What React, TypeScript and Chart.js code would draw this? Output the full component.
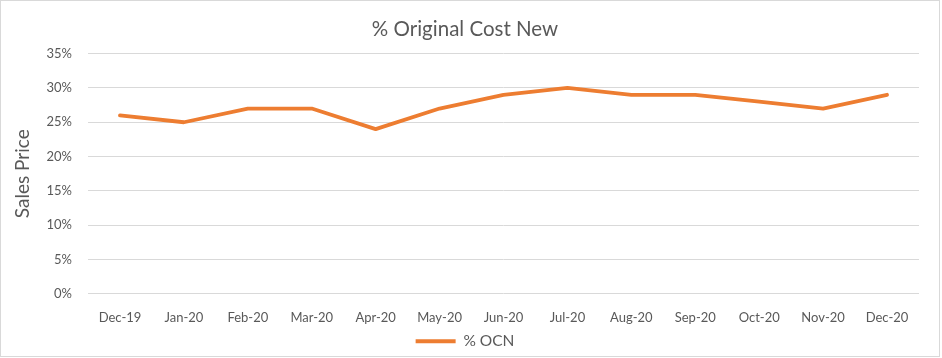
import React, { useEffect, useRef } from "react";
import { Chart, registerables } from "chart.js";

Chart.register(...registerables);

const categories = ["Dec-19", "Jan-20", "Feb-20", "Mar-20", "Apr-20", "May-20", "Jun-20", "Jul-20", "Aug-20", "Sep-20", "Oct-20", "Nov-20", "Dec-20"];
const ocnValues = [26, 25, 27, 27, 24, 27, 29, 30, 29, 29, 28, 27, 29];
const seriesName = "% OCN";
const chartTitle = "% Original Cost New";
const yAxisTitle = "Sales Price";

const FONT = "Lato, 'Open Sans', sans-serif";
const TEXT = "#595959";
const ORANGE = "#ED7D31";

export default function App() {
  const ref = useRef<HTMLCanvasElement | null>(null);
  useEffect(() => {
    document.body.style.margin = "0";
    const ctx = ref.current!;
    const chart = new Chart(ctx, {
      type: "line",
      data: {
        labels: categories,
        datasets: [
          {
            label: seriesName,
            data: ocnValues,
            borderColor: ORANGE,
            backgroundColor: ORANGE,
            borderWidth: 3.8,
            pointRadius: 0,
            pointHoverRadius: 0,
            borderCapStyle: "round",
            borderJoinStyle: "round",
            tension: 0,
          },
        ],
      },
      options: {
        responsive: false,
        animation: false,
        layout: { padding: { left: 10, right: 20, top: 7, bottom: -3 } },
        plugins: {
          title: {
            display: true,
            text: chartTitle,
            color: TEXT,
            font: { family: FONT, size: 20.5, weight: "normal" },
            padding: { top: 9, bottom: 12 },
          },
          legend: {
            display: true,
            position: "bottom",
            labels: {
              color: TEXT,
              font: { family: FONT, size: 15.5 },
              usePointStyle: true,
              pointStyle: "line",
              pointStyleWidth: 40,
              padding: 4,
            },
          },
          tooltip: { enabled: false },
        },
        scales: {
          x: {
            type: "category",
            offset: true,
            grid: { display: false, drawTicks: false },
            border: { display: false },
            ticks: {
              color: TEXT,
              font: { family: FONT, size: 13 },
              padding: 16,
              maxRotation: 0,
              autoSkip: false,
            },
            afterFit: (scale: any) => {
              scale.height -= 12;
            },
          },
          y: {
            min: 0,
            max: 35,
            grid: { color: "#d9d9d9", lineWidth: 1, drawTicks: false },
            border: { display: false },
            ticks: {
              stepSize: 5,
              color: TEXT,
              font: { family: FONT, size: 13 },
              padding: 16,
              callback: (v: any) => `${v}%`,
            },
            title: {
              display: true,
              text: yAxisTitle,
              color: TEXT,
              font: { family: FONT, size: 19 },
              padding: { top: 0, bottom: 4 },
            },
            afterFit: (scale: any) => {
              scale.width = 77;
            },
          },
        },
      },
    });
    return () => chart.destroy();
  }, []);
  return (
    <div
      style={{
        width: 940,
        height: 357,
        boxSizing: "border-box",
        border: "1px solid #d9d9d9",
        background: "#fff",
      }}
    >
      <canvas ref={ref} width={938} height={355} style={{ display: "block" }} />
    </div>
  );
}
